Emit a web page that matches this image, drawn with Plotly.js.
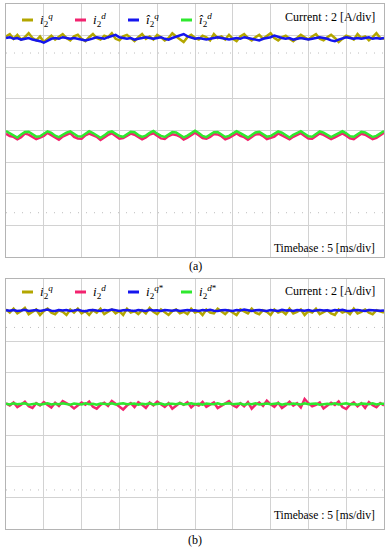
<!DOCTYPE html>
<html>
<head>
<meta charset="utf-8">
<script src="https://cdn.plot.ly/plotly-3.0.1.min.js"></script>
<style>
  html, body { margin: 0; padding: 0; background: #fff; }
  #chart { width: 391px; height: 550px; }
</style>
</head>
<body>
<div id="chart"></div>
<script>
// one sample every 0.5 ms, 10 div x 5 ms/div = 50 ms on screen
const SAMPLE_MS = 0.5;

const colors = ['#b3a600', '#f2236f', '#1515ee', '#2ee82e'];

const labelsA = [
  '<i>i</i><sub>2</sub><sup><i>q</i></sup>',
  '<i>i</i><sub>2</sub><sup><i>d</i></sup>',
  '<i>î</i><sub>2</sub><sup><i>q</i></sup>',
  '<i>î</i><sub>2</sub><sup><i>d</i></sup>'
];
const labelsB = [
  '<i>i</i><sub>2</sub><sup><i>q</i></sup>',
  '<i>i</i><sub>2</sub><sup><i>d</i></sup>',
  '<i>i</i><sub>2</sub><sup><i>q</i>*</sup>',
  '<i>i</i><sub>2</sub><sup><i>d</i>*</sup>'
];

// (a) currents in A
const iqA = [5.95,6.10,5.80,6.05,5.75,5.90,6.15,5.85,5.70,5.95,5.60,5.80,6.00,5.75,5.90,6.10,5.85,5.70,5.95,6.05,5.80,5.65,5.90,6.10,5.85,5.75,6.00,5.90,6.15,5.80,5.70,5.95,6.05,5.85,5.65,5.90,6.10,5.80,5.95,5.75,6.05,5.90,5.70,5.85,6.15,5.95,5.80,5.60,5.90,6.05,5.85,
  5.75,6.00,5.90,5.70,6.10,5.85,5.95,5.75,6.05,5.80,5.65,5.95,6.10,5.85,5.70,5.90,6.05,5.80,5.95,6.15,5.85,5.70,5.90,6.00,5.80,5.65,5.85,6.05,5.90,5.75,5.95,6.10,5.80,5.70,5.90,6.05,5.85,5.60,5.80,6.00,5.90,5.75,6.10,5.85,5.95,5.70,5.90,6.15,5.85,5.80];
const idA = [-0.20,-0.35,-0.40,-0.55,-0.42,-0.20,-0.26,-0.38,-0.55,-0.45,-0.35,-0.15,-0.30,-0.47,-0.58,-0.38,-0.28,-0.16,-0.40,-0.50,-0.52,-0.30,-0.20,-0.32,-0.40,-0.60,-0.42,-0.28,-0.18,-0.36,-0.52,-0.48,-0.36,-0.20,-0.27,-0.40,-0.56,-0.44,-0.25,-0.17,-0.35,-0.50,-0.53,-0.35,-0.24,-0.28,-0.38,-0.57,-0.45,-0.30,-0.14,
  -0.30,-0.48,-0.52,-0.40,-0.22,-0.25,-0.36,-0.56,-0.46,-0.33,-0.18,-0.34,-0.42,-0.58,-0.40,-0.25,-0.22,-0.35,-0.54,-0.45,-0.38,-0.19,-0.30,-0.46,-0.56,-0.40,-0.30,-0.17,-0.35,-0.50,-0.52,-0.38,-0.19,-0.28,-0.40,-0.55,-0.43,-0.30,-0.18,-0.33,-0.49,-0.55,-0.38,-0.21,-0.27,-0.41,-0.54,-0.47,-0.28,-0.15];
const iqEstA = [5.85,5.90,5.80,5.85,5.75,5.80,5.85,5.75,5.70,5.65,5.55,5.70,5.80,5.85,5.80,5.90,5.85,5.80,5.85,5.80,5.75,5.70,5.75,5.85,5.90,5.85,5.80,5.90,6.00,6.05,5.90,5.85,5.80,5.85,5.75,5.80,5.85,5.90,5.85,5.80,5.85,5.90,5.80,5.75,5.85,5.95,6.05,6.10,5.95,5.85,5.80,
  5.85,5.80,5.75,5.80,5.85,5.90,5.85,5.80,5.75,5.80,5.85,5.80,5.90,5.85,5.80,5.75,5.70,5.80,5.85,5.90,6.00,5.90,5.85,5.80,5.85,5.75,5.80,5.85,5.80,5.75,5.80,5.85,5.90,5.85,5.80,5.70,5.65,5.75,5.85,5.90,5.85,5.80,5.85,5.80,5.85,5.90,5.80,5.85,5.80,5.85];
const idEstA = [-0.03,-0.18,-0.31,-0.44,-0.25,-0.10,-0.08,-0.26,-0.39,-0.36,-0.18,-0.05,-0.15,-0.33,-0.42,-0.27,-0.13,-0.06,-0.24,-0.37,-0.38,-0.20,-0.04,-0.16,-0.29,-0.46,-0.31,-0.12,-0.06,-0.22,-0.35,-0.40,-0.21,-0.08,-0.11,-0.29,-0.41,-0.32,-0.15,-0.03,-0.20,-0.34,-0.41,-0.23,-0.10,-0.12,-0.25,-0.43,-0.32,-0.18,-0.01,
  -0.16,-0.34,-0.42,-0.27,-0.11,-0.09,-0.23,-0.41,-0.34,-0.20,-0.04,-0.17,-0.30,-0.44,-0.29,-0.12,-0.08,-0.22,-0.39,-0.35,-0.22,-0.06,-0.14,-0.31,-0.44,-0.28,-0.15,-0.04,-0.20,-0.37,-0.39,-0.24,-0.06,-0.13,-0.27,-0.42,-0.30,-0.17,-0.05,-0.18,-0.36,-0.40,-0.25,-0.08,-0.12,-0.27,-0.41,-0.34,-0.16,-0.03];

// (b) currents in A
const iqB = [6.05,5.85,6.10,5.80,5.95,6.15,5.75,5.90,6.05,5.70,5.95,6.10,5.85,5.75,6.00,5.90,5.70,6.05,5.85,6.10,5.80,5.95,5.70,6.00,5.85,6.10,5.75,5.90,6.05,5.80,5.95,5.70,6.10,5.85,5.95,5.75,6.00,5.80,6.15,5.90,5.75,6.05,5.85,5.70,5.95,6.05,5.80,5.90,5.75,6.10,5.85,
  5.95,5.70,6.05,5.85,5.80,6.10,5.90,5.75,6.00,5.85,5.70,6.05,5.95,5.80,6.10,5.85,5.75,6.00,5.90,5.70,6.05,5.85,5.95,5.75,6.10,5.80,5.90,6.05,5.70,5.95,5.85,6.10,5.75,5.90,6.00,5.80,5.70,6.05,5.85,5.95,5.75,6.10,5.80,5.90,6.05,5.85,5.75,6.00,5.90,5.85];
const idB = [0.05,-0.10,0.10,-0.20,-0.05,0.15,-0.15,-0.25,0.05,-0.10,0.12,-0.05,-0.22,0.08,-0.12,0.18,0.05,-0.08,-0.28,-0.10,0.10,-0.05,0.15,-0.18,-0.30,-0.05,0.08,-0.12,0.20,0.02,-0.15,-0.35,-0.10,0.06,-0.20,0.12,-0.05,-0.25,0.10,-0.08,0.15,-0.02,-0.18,0.05,-0.30,-0.12,0.08,-0.05,0.12,-0.22,0.00,
  -0.10,0.14,-0.18,-0.05,0.10,-0.26,-0.12,0.06,0.18,-0.08,-0.20,0.05,-0.15,0.12,-0.30,-0.05,0.10,-0.12,0.22,-0.02,-0.18,0.08,-0.25,-0.08,0.15,-0.10,0.05,-0.22,0.32,0.05,-0.15,-0.05,0.10,-0.28,-0.12,0.08,-0.06,0.16,-0.20,-0.32,-0.05,0.10,-0.15,0.05,-0.25,0.12,-0.08,-0.20,0.06,-0.10];
const iqRefB = [6.00,5.97,6.02,5.96,5.99,6.03,5.95,5.98,6.01,5.96,6.00,6.04,5.97,5.95,6.01,5.98,6.02,5.96,5.99,6.03,5.97,5.94,6.00,6.02,5.98,5.96,6.01,5.99,6.04,5.97,5.95,6.00,6.02,5.98,5.96,6.01,5.99,5.95,6.03,5.98,6.00,5.96,6.02,5.99,5.97,6.01,5.95,5.99,6.02,5.98,6.00,
  5.96,6.01,5.98,6.03,5.97,5.95,6.00,6.02,5.98,5.96,6.01,5.99,6.04,5.97,5.95,6.00,6.02,5.98,5.96,6.01,5.99,5.95,6.03,5.98,6.00,5.96,6.02,5.99,5.97,6.01,5.95,5.99,6.02,5.98,6.00,5.96,6.01,5.98,6.03,5.97,5.95,6.00,6.02,5.98,5.96,6.01,5.99,6.00,5.97,5.99];
const idRefB = [0.02,-0.03,0.04,-0.02,0.01,0.05,-0.04,0.00,0.03,-0.05,0.02,0.04,-0.03,0.01,-0.02,0.05,0.00,-0.04,0.03,0.01,-0.03,0.04,-0.01,0.02,-0.05,0.03,0.00,-0.02,0.04,-0.03,0.01,0.05,-0.02,0.00,0.03,-0.04,0.02,-0.01,0.04,-0.03,0.00,0.03,-0.05,0.02,0.01,-0.02,0.04,-0.03,0.00,0.05,-0.01,
  0.02,-0.04,0.03,0.00,-0.02,0.05,-0.03,0.01,0.04,-0.02,0.00,0.03,-0.05,0.02,-0.01,0.04,-0.03,0.01,0.03,-0.02,0.00,0.05,-0.04,0.02,-0.01,0.03,0.00,-0.03,0.04,-0.02,0.01,0.03,-0.05,0.00,0.02,-0.02,0.04,-0.03,0.01,0.05,-0.01,0.00,-0.04,0.03,0.02,-0.02,0.04,-0.03,0.01,0.02];

// scope cursor levels (A)
const cursorsA = [4.9, -5.2];
const cursorsB = [4.9, -5.5];

const W = 391, H = 550;
const px = v => v / W;
const py = v => 1 - v / H;

const panels = [
  { xa: 'x', ya: 'y', series: [iqA, idA, iqEstA, idEstA], labels: labelsA, cursors: cursorsA,
    top: 4, bottom: 257, legY: 20, curY: 17, tbY: 248, tag: '(a)', tagY: 266 },
  { xa: 'x2', ya: 'y2', series: [iqB, idB, iqRefB, idRefB], labels: labelsB, cursors: cursorsB,
    top: 279, bottom: 529, legY: 292, curY: 291, tbY: 515, tag: '(b)', tagY: 540 }
];

const serif = 'Liberation Serif, Times New Roman, serif';
const gridCol = '#d2d2d2';
const traces = [], shapes = [], annotations = [];
const layout = {
  width: W, height: H,
  margin: { l: 0, r: 0, t: 0, b: 0 },
  paper_bgcolor: '#fff', plot_bgcolor: '#fff',
  showlegend: false
};

const xDom = [px(6), px(384)];
let axisN = 3;

panels.forEach((p, k) => {
  const sfx = k === 0 ? '' : '2';
  const yDom = [py(p.bottom), py(p.top)];

  layout['xaxis' + sfx] = {
    domain: xDom, range: [0, 50], dtick: 5, anchor: 'y' + sfx,
    showgrid: true, gridcolor: gridCol, gridwidth: 1, zeroline: false,
    showline: true, mirror: true, linecolor: '#b4b4b4', linewidth: 1,
    ticks: '', showticklabels: false, fixedrange: true
  };
  layout['yaxis' + sfx] = {
    domain: yDom, range: [-8, 8], dtick: 2, anchor: 'x' + sfx,
    showgrid: true, gridcolor: gridCol, gridwidth: 1, zeroline: false,
    showline: true, mirror: true, linecolor: '#b4b4b4', linewidth: 1,
    ticks: '', showticklabels: false, fixedrange: true
  };

  // small division ticks on the centre cross
  const midY = (yDom[0] + yDom[1]) / 2;
  const midX = (xDom[0] + xDom[1]) / 2;
  ['inside', 'outside'].forEach(side => {
    layout['xaxis' + axisN] = {
      overlaying: 'x' + sfx, anchor: 'free', position: midY, range: [0, 50], dtick: 1,
      ticks: side, ticklen: 2, tickcolor: '#a8a8a8', showticklabels: false,
      showgrid: false, zeroline: false, showline: false, fixedrange: true
    };
    layout['yaxis' + axisN] = {
      overlaying: 'y' + sfx, anchor: 'free', position: midX, range: [-8, 8], dtick: 0.4,
      ticks: side, ticklen: 2, tickcolor: '#a8a8a8', showticklabels: false,
      showgrid: false, zeroline: false, showline: false, fixedrange: true
    };
    axisN++;
  });

  p.cursors.forEach(c => {
    traces.push({
      x: [0, 50], y: [c, c], xaxis: p.xa, yaxis: p.ya, mode: 'lines',
      line: { color: '#bdbdbd', width: 1, dash: '1px,7px' }, hoverinfo: 'skip'
    });
  });

  p.series.forEach((s, i) => {
    traces.push({
      y: s, x0: 0, dx: SAMPLE_MS, xaxis: p.xa, yaxis: p.ya, mode: 'lines',
      line: { color: colors[i], width: 2.5 }, name: p.labels[i]
    });
    shapes.push({
      type: 'line', xref: 'paper', yref: 'paper',
      x0: px(22 + 53 * i), x1: px(33 + 53 * i), y0: py(p.legY), y1: py(p.legY),
      line: { color: colors[i], width: 3 }
    });
    annotations.push({
      xref: 'paper', yref: 'paper', x: px(38 + 53 * i), y: py(p.legY),
      xanchor: 'left', yanchor: 'middle', showarrow: false, text: p.labels[i],
      font: { family: serif, size: 13, color: '#000' }
    });
  });

  annotations.push({
    xref: 'paper', yref: 'paper', x: px(377), y: py(p.curY), xanchor: 'right', yanchor: 'middle',
    showarrow: false, text: 'Current : 2 [A/div]', font: { family: serif, size: 12, color: '#000' }
  });
  annotations.push({
    xref: 'paper', yref: 'paper', x: px(377), y: py(p.tbY), xanchor: 'right', yanchor: 'middle',
    showarrow: false, text: 'Timebase : 5 [ms/div]', font: { family: serif, size: 11.5, color: '#000' }
  });
  annotations.push({
    xref: 'paper', yref: 'paper', x: px(195), y: py(p.tagY), xanchor: 'center', yanchor: 'middle',
    showarrow: false, text: p.tag, font: { family: serif, size: 12, color: '#000' }
  });
});

layout.shapes = shapes;
layout.annotations = annotations;

Plotly.newPlot('chart', traces, layout, { staticPlot: true, displayModeBar: false });
</script>
</body>
</html>
